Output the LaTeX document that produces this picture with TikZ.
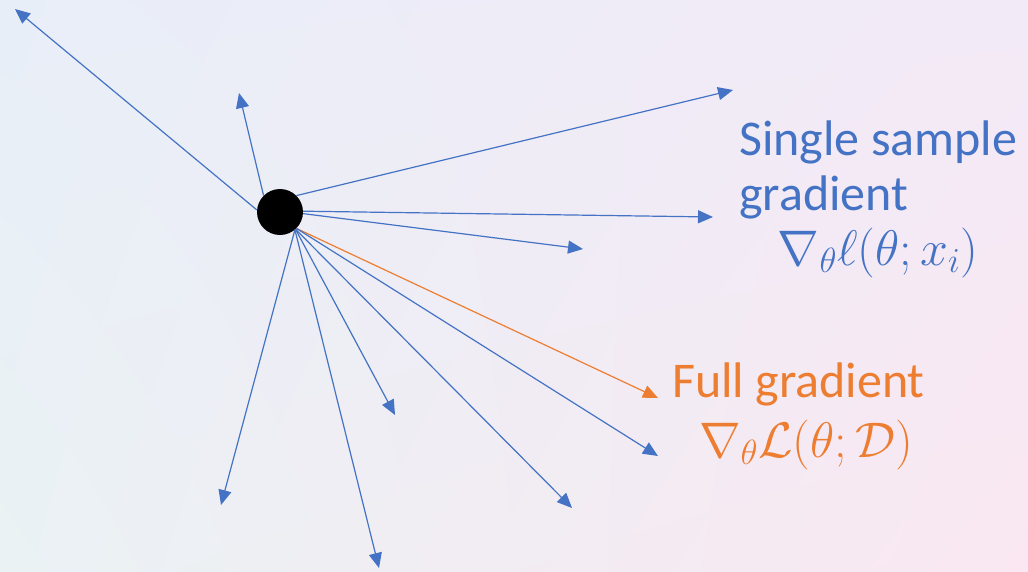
\RequirePackage{fix-cm}
\documentclass[tikz,border=0pt]{standalone}
\usepackage{fontspec}
\setmainfont{Carlito}
\usetikzlibrary{arrows.meta,shadings}
\definecolor{gblue}{HTML}{4472C4}
\definecolor{gorange}{HTML}{ED7D31}
\definecolor{bgTL}{HTML}{E8EEF8}
\definecolor{bgTR}{HTML}{F3EAF7}
\definecolor{bgBL}{HTML}{EAF2F4}
\definecolor{bgBR}{HTML}{FAE7F1}
\begin{document}
\begin{tikzpicture}[x=1pt,y=-1pt,
  vec/.style={gblue,line width=1.2pt,-{Triangle[length=15pt,width=13pt]}},
  fvec/.style={vec,gorange},
  lbl/.style={inner sep=0pt,font=\fontsize{50}{55}\selectfont}]
\shade[upper left=bgTL,upper right=bgTR,lower left=bgBL,lower right=bgBR] (0,0) rectangle (1028,571);
\useasboundingbox (0,0) rectangle (1028,571);
\node[circle,fill=black,minimum size=46pt,inner sep=0pt] (dot) at (280,212) {};
\coordinate (t1) at (15,9);
\coordinate (t2) at (239,93);
\coordinate (t3) at (733,90);
\coordinate (t4) at (713,217);
\coordinate (t5) at (583,249);
\coordinate (t6) at (658,398);
\coordinate (t7) at (658,456);
\coordinate (t8) at (395,415);
\coordinate (t9) at (572,508);
\coordinate (t10) at (379,568);
\coordinate (t11) at (221,505);
\draw[vec] (dot.175) -- (t1);
\draw[vec] (dot.135) -- (t2);
\draw[vec] (dot.45) -- (t3);
\draw[vec] (dot.2) -- (t4);
\draw[vec] (dot.-4) -- (t5);
\draw[fvec] (dot.-45) -- (t6);
\draw[vec] (dot.-45) -- (t7);
\draw[vec] (dot.-48) -- (t8);
\draw[vec] (dot.-48) -- (t9);
\draw[vec] (dot.-50) -- (t10);
\draw[vec] (dot.-50) -- (t11);
\node[lbl,gblue,anchor=base west] (s1) at (739,155) {Single sample};
\node[lbl,gblue,anchor=base west] (s2) at (739,210) {gradient};
\node[lbl,gblue,anchor=base] (s3) at (878,265) {$\nabla_{\theta}\ell(\theta;x_i)$};
\node[lbl,gorange,anchor=base west] (f1) at (672,397) {Full gradient};
\node[lbl,gorange,anchor=base] (f2) at (806,457) {$\nabla_{\theta}\mathcal{L}(\theta;\mathcal{D})$};
\end{tikzpicture}
\end{document}
